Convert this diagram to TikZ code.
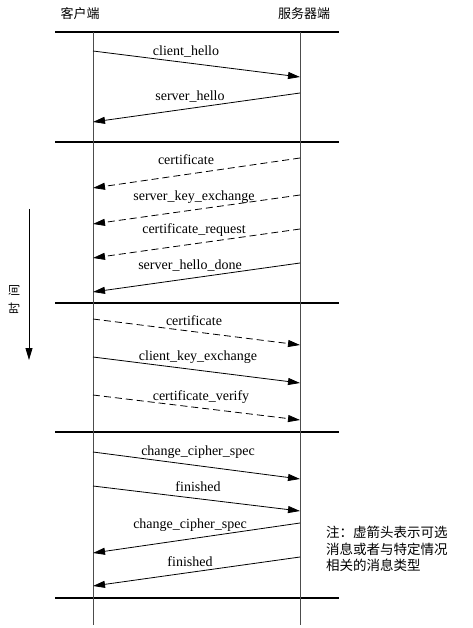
\documentclass[tikz,border=0pt]{standalone}
\usepackage{fontspec}
\setmainfont{Liberation Serif}
\newfontfamily\cjk{Noto Sans CJK SC}
\usetikzlibrary{arrows.meta}
\begin{document}
\begin{tikzpicture}[x=1pt,y=-1pt,
  sep/.style={line width=2.2pt},
  life/.style={line width=0.8pt,draw=black!70},
  msg/.style={line width=0.8pt,-{Triangle[length=12pt,width=7pt]}},
  opt/.style={msg,dash pattern=on 7pt off 4pt},
  lbl/.style={font=\fontsize{14}{15}\selectfont,inner sep=0pt},
  head/.style={font=\cjk\fontsize{13}{14}\selectfont,inner sep=0pt},
  dot/.style={inner sep=0pt,outer sep=0pt,minimum size=0pt}]
\useasboundingbox (0,0) rectangle (473,628);
% headers
\node[head] (hc) at (80,14) {客户端};
\node[head] (hs) at (304,14) {服务器端};
% separator lines
\foreach \i/\y in {1/32,2/142,3/303,4/432,5/598}{
  \coordinate (sl\i) at (55,\y);
  \coordinate (sr\i) at (339,\y);
  \draw[sep] (sl\i) -- (sr\i);
}
% lifelines
\coordinate (ct) at (93,32); \coordinate (cb) at (93,625);
\coordinate (st) at (300,32); \coordinate (sb) at (300,625);
\draw[life] (ct) -- (cb);
\draw[life] (st) -- (sb);
% message endpoints
\foreach \n/\ya/\yb in {a/51/77,g/319/345,h/357/383,i/395/420,j/452/479,k/486/511}{
  \coordinate (\n1) at (93,\ya); \coordinate (\n2) at (300,\yb);
}
\foreach \n/\ya/\yb in {b/93/122,c/158/188,d/195/224,e/229/258,f/263/292,l/523/553,m/557/586}{
  \coordinate (\n1) at (300,\ya); \coordinate (\n2) at (93,\yb);
}
\draw[msg] (a1) -- (a2);
\draw[msg] (b1) -- (b2);
\draw[opt] (c1) -- (c2);
\draw[opt] (d1) -- (d2);
\draw[opt] (e1) -- (e2);
\draw[msg] (f1) -- (f2);
\draw[opt] (g1) -- (g2);
\draw[msg] (h1) -- (h2);
\draw[opt] (i1) -- (i2);
\draw[msg] (j1) -- (j2);
\draw[msg] (k1) -- (k2);
\draw[msg] (l1) -- (l2);
\draw[msg] (m1) -- (m2);
% labels
\node[lbl] (ta) at (186,52) {client\_hello};
\node[lbl] (tb) at (190,97) {server\_hello};
\node[lbl] (tc) at (186,160) {certificate};
\node[lbl] (td) at (194,197) {server\_key\_exchange};
\node[lbl] (te) at (194,230) {certificate\_request};
\node[lbl] (tf) at (190,266) {server\_hello\_done};
\node[lbl] (tg) at (194,321) {certificate};
\node[lbl] (th) at (198,357) {client\_key\_exchange};
\node[lbl] (ti) at (201,397) {certificate\_verify};
\node[lbl] (tj) at (198,452) {change\_cipher\_spec};
\node[lbl] (tk) at (198,487) {finished};
\node[lbl] (tl) at (190,525) {change\_cipher\_spec};
\node[lbl] (tm) at (190,562) {finished};
% time arrow
\coordinate (tt) at (29,209);
\coordinate (tb2) at (29,360);
\draw[line width=0.8pt,-{Triangle[length=12pt,width=7pt]}] (tt) -- (tb2);
\node[head,rotate=90,font=\cjk\fontsize{12}{13}\selectfont] (time) at (14,299) {时\hspace{6pt}间};
% note
\node[head,anchor=north west,align=left,font=\cjk\fontsize{13.5}{16.5}\selectfont] (note) at (326,526) {注：虚箭头表示可选\\消息或者与特定情况\\相关的消息类型};
\end{tikzpicture}
\end{document}
